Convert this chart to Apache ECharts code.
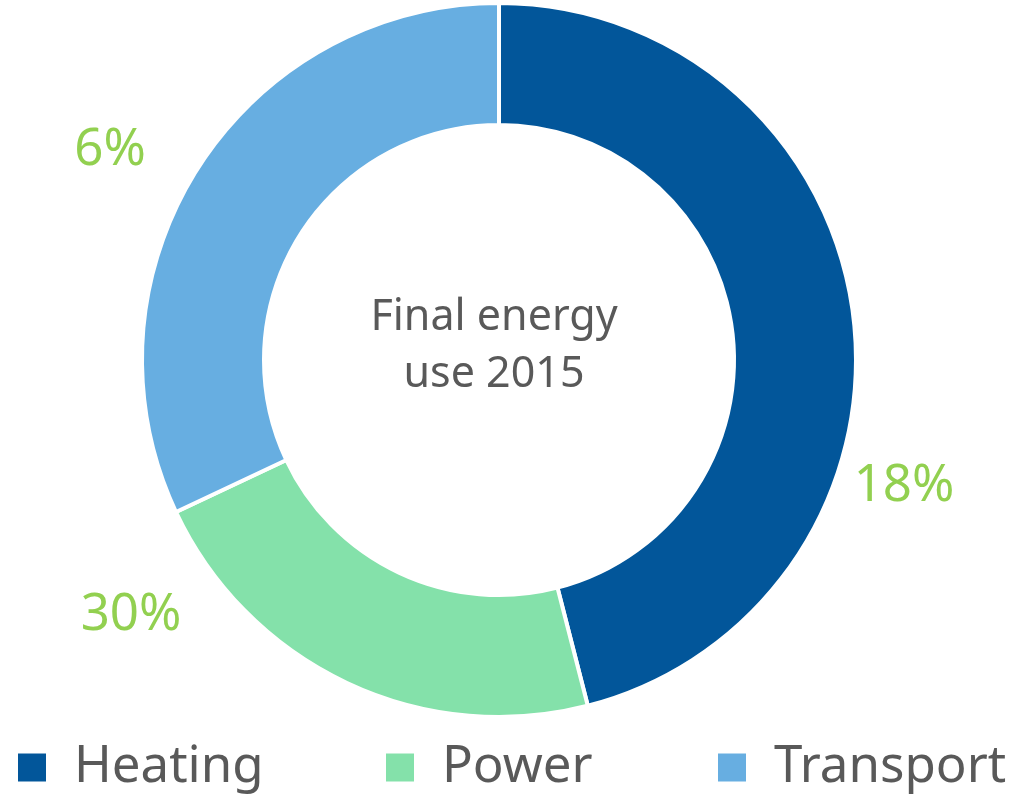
<!DOCTYPE html>
<html>
<head>
<meta charset="utf-8">
<script src="https://cdn.jsdelivr.net/npm/echarts@6/dist/echarts.min.js"></script>
<style>
html,body{margin:0;padding:0;background:#fff;}
#chart{width:1020px;height:796px;}
</style>
</head>
<body>
<div id="chart"></div>
<script>
var categories = ['Heating', 'Power', 'Transport'];
var values = [46, 22, 32];
var shareLabels = ['18%', '30%', '6%'];
var centerTitle = 'Final energy\nuse 2015';

var colors = ['#02569A', '#84E1AA', '#67AEE1'];
var labelPos = [[904, 486], [131, 615], [110, 150]];
var legendLeft = [16, 384, 716];
var FONT = '"Noto Sans", "Open Sans", sans-serif';

var chart = echarts.init(document.getElementById('chart'), null, {renderer: 'canvas'});

var legends = categories.map(function (c, i) {
  return {
    data: [c],
    left: legendLeft[i],
    top: 742,
    padding: 0,
    icon: 'rect',
    itemWidth: 30,
    itemHeight: 30,
    selectedMode: false,
    textStyle: {
      fontFamily: FONT,
      fontSize: 51,
      color: '#595959',
      lineHeight: 50,
      padding: [0, 0, 0, 22]
    }
  };
});

chart.setOption({
  animation: false,
  color: colors,
  legend: legends,
  graphic: [{
    type: 'text',
    x: 494,
    y: 346,
    style: {
      text: centerTitle,
      align: 'center',
      verticalAlign: 'middle',
      textAlign: 'center',
      textVerticalAlign: 'middle',
      fontFamily: FONT,
      fontSize: 43,
      lineHeight: 57,
      fill: '#595959'
    }
  }],
  series: [{
    type: 'pie',
    center: [499, 360],
    radius: [235, 357],
    startAngle: 90,
    clockwise: true,
    avoidLabelOverlap: false,
    emphasis: {disabled: true},
    itemStyle: {borderColor: '#ffffff', borderWidth: 4},
    label: {
      show: true,
      position: 'outside',
      formatter: function (p) { return shareLabels[p.dataIndex]; },
      fontFamily: FONT,
      fontSize: 51,
      color: '#92D050'
    },
    labelLine: {show: false},
    labelLayout: function (p) {
      var pos = labelPos[p.dataIndex];
      return {x: pos[0], y: pos[1], align: 'center', verticalAlign: 'middle'};
    },
    data: categories.map(function (c, i) { return {name: c, value: values[i]}; })
  }]
});
</script>
</body>
</html>
